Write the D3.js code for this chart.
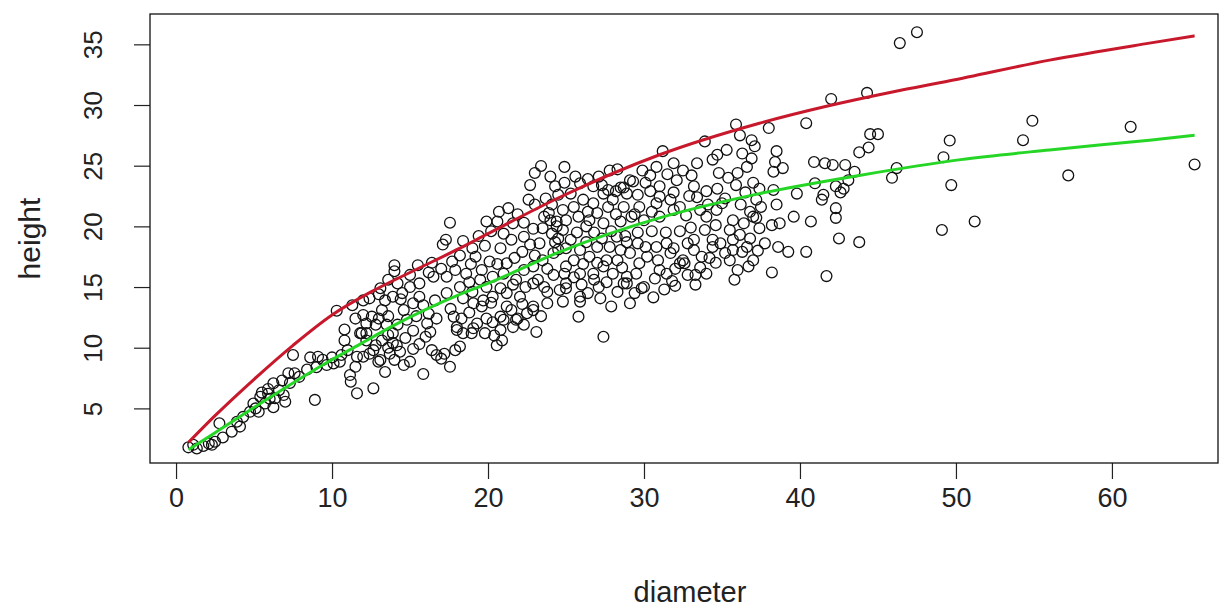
<!DOCTYPE html>
<html>
<head>
<meta charset="utf-8">
<script src="https://cdn.jsdelivr.net/npm/d3@7"></script>
<style>
  body { margin: 0; background: #fff; }
  text { font-family: "Liberation Sans", Arial, sans-serif; fill: #222; }
</style>
</head>
<body>
<svg id="chart" width="1230" height="608"></svg>
<script>

var trees = [
  [0.79,1.79],[1.33,1.7],[1.75,1.9],[2.5,2.25],[2.1,2.1],[2.78,3.77],[3.57,3.08],[4.1,3.5],[4.3,4.3],[4.74,4.72],
  [5.3,4.72],[4.96,5.4],[5.4,5.96],[5.9,6.2],[6.24,5.1],[6.35,5.83],[6.9,6.1],[7.0,5.55],[6.8,7.3],[7.2,7.9],
  [7.6,7.9],[7.5,9.4],[6.24,7.07],[5.9,6.6],[5.5,6.3],[8.9,5.7],[8.6,9.2],[9.1,9.26],[9.0,8.4],[9.66,8.57],
  [10.1,8.7],[10.5,8.85],[10.8,10.6],[10.3,13.05],[11.3,13.5],[11.15,7.75],[11.2,7.2],[11.6,6.24],[11.5,8.43],[11.6,9.26],
  [11.8,11.2],
  [1.1,2.0],[2.3,2.0],[3.0,2.6],[3.9,3.9],[5.1,5.0],[5.7,5.4],[6.0,5.8],[6.6,6.5],[7.3,7.1],[7.9,7.6],
  [8.4,8.2],[9.4,9.0],[10.0,9.2],[10.6,9.4],[11.0,9.8],
  [12.65,6.65],[13.4,8.0],[12.97,8.85],[12.4,9.5],[12.2,11.2],[14.6,8.57],[15.0,8.85],[14.36,9.67],[13.9,10.4],[13.6,11.05],
  [15.85,7.83],[16.4,9.8],[16.7,9.4],[17.0,9.1],[17.56,8.43],[17.2,9.5],[17.9,9.8],[18.2,10.1],[18.0,11.46],[18.4,11.2],
  [18.95,11.2],[19.06,11.6],[16.3,11.3],[18.3,12.4],[20.56,10.2],[20.9,10.6],[20.3,12.1],[21.0,12.3],[20.8,11.46],[21.9,12.4],
  [21.2,13.4],[23.1,11.3],[22.9,13.1],[19.6,13.4],[20.2,13.7],
  [12.0,9.26],[12.65,9.8],[13.1,8.99],[13.7,9.5],[14.15,10.2],[13.2,10.6],[13.9,11.2],[13.5,11.9],[12.2,10.6],[11.9,11.2],
  [10.8,11.5],[11.5,12.4],[12.0,12.7],[12.8,11.9],[13.0,12.4],[13.6,12.6],[14.2,11.9],[14.8,12.3],[15.4,12.6],[15.2,11.4],
  [14.7,10.8],[15.6,10.3],[15.2,9.9],[14.0,9.0],[12.8,10.2],[13.6,10.0],[16.0,10.9],[16.2,12.8],[15.6,14.2],[14.4,14.0],
  [13.0,14.4],[14.2,15.3],[13.6,15.6],[15.0,16.0],[16.2,16.2],[16.4,17.0],[15.5,16.8],
  [25.8,12.56],[27.4,10.9],[29.1,13.66],[30.6,14.15],[29.85,14.9],[28.9,15.3],[27.2,14.07],[25.9,13.8],[24.8,13.8],[26.4,14.5],
  [27.1,15.0],[26.0,15.2],[25.0,14.9],[35.8,15.6],
  [23.4,24.98],[23.0,24.4],[22.7,23.4],[23.0,21.8],[23.9,21.1],[17.56,20.3],[17.1,18.5],[17.3,18.9],[14.0,16.8],[14.0,16.3],
  [13.1,14.9],[12.4,14.07],[18.2,17.6],[19.2,17.5],[20.1,17.1],[20.8,18.2],[21.0,19.4],[21.6,20.25],[22.3,19.15],[22.7,18.5],
  [21.5,18.9],[23.5,19.85],[24.1,19.4],[23.3,18.6],[24.3,18.7],[24.5,19.0],[20.3,15.85],[21.0,16.1],[21.8,15.6],[22.9,15.3],
  [19.5,15.6],[18.6,16.1],[17.35,15.85],[16.5,15.85],[15.6,15.3],[15.0,15.0],[14.5,14.5],[13.9,14.2],[13.4,13.9],[13.2,13.1],
  [12.55,12.56],[12.2,12.0],[18.2,15.0],[17.35,14.5],[16.6,13.9],[15.85,13.5],[15.2,13.66],[14.6,13.1],[16.7,12.4],[16.1,12.0],
  [17.8,12.56],[18.0,11.7],[19.06,13.66],[19.7,13.9],[20.3,14.2],[21.2,14.5],[22.05,14.2],[22.9,13.4],[23.8,13.66],[20.8,12.56],
  [21.8,12.3],[22.5,12.84],[19.9,12.4],[18.4,14.07],[23.5,17.2],[22.9,16.7],[22.3,16.4],[21.2,16.96],[24.2,17.8],[24.4,20.0],
  [24.0,20.5],[24.4,20.4],[12.0,13.9],
  [17.6,13.2],[18.8,12.9],[19.3,12.0],[19.8,11.2],[20.4,11.0],[21.6,11.7],[22.3,11.9],[21.5,13.1],[22.2,13.6],[23.4,12.6],
  [23.8,14.6],[23.2,15.6],[22.4,15.0],[21.6,15.2],[20.8,14.9],[19.9,15.0],[19.0,14.6],[18.8,15.4],[17.9,16.4],[17.0,16.5],
  [17.7,17.1],[18.9,16.9],[19.6,16.4],[20.6,16.9],[21.7,17.4],[22.2,17.9],[23.0,17.6],[23.8,16.5],[24.2,16.0],[23.6,15.0],
  [19.8,18.4],[19.0,18.2],[18.4,18.8],[19.4,19.2],[20.2,19.6],[20.6,20.4],[21.9,21.0],[22.3,20.3],[21.3,21.5],[20.7,21.2],
  [19.9,20.4],[22.9,19.8],[23.6,20.8],[24.1,21.8],[24.5,22.6],[23.7,22.3],[22.6,22.2],[24.3,23.3],[24.0,24.1],
  [35.9,28.4],[36.15,27.5],[36.9,27.1],[36.9,25.6],[35.3,26.3],[33.9,27.0],[31.2,26.2],[24.9,24.9],[31.9,25.2],[33.4,25.2],
  [34.4,25.5],[36.6,24.9],[36.0,24.4],[30.4,24.2],[29.3,23.7],[27.8,24.6],[28.3,24.7],[27.1,24.1],[25.9,23.55],[25.3,22.7],
  [31.0,23.3],[33.2,23.3],[33.05,24.2],[34.0,22.9],[34.8,24.4],[33.6,21.35],[32.3,21.6],[31.7,22.2],[31.0,22.45],[30.8,21.9],
  [30.4,22.9],[29.7,21.6],[28.9,22.7],[28.7,21.6],[28.0,22.2],[27.4,22.7],[26.75,23.3],[26.75,21.9],[26.1,22.2],[25.5,21.6],
  [24.8,21.35],[25.0,20.5],[25.8,20.8],[26.5,20.5],[27.4,20.25],[28.5,20.4],[29.2,20.8],[30.0,20.5],[31.0,20.8],[31.9,21.35],
  [32.7,20.9],[34.0,20.8],[34.65,21.35],[35.7,20.5],[36.4,20.25],[37.0,20.8],[35.5,19.7],[36.15,19.3],[36.8,19.0],[35.7,18.9],
  [34.9,18.6],[34.4,18.9],[35.7,18.05],[36.3,17.9],[35.5,17.2],[35.2,17.8],[36.6,18.3],[33.2,18.9],[33.2,18.05],[32.5,17.2],
  [31.7,17.8],[31.45,18.6],[30.8,18.3],[30.1,18.3],[30.2,17.5],[29.1,17.8],[28.5,18.05],[28.25,19.15],[27.8,18.3],[27.0,18.3],
  [27.6,17.2],[26.5,17.5],[25.9,18.05],[25.3,18.9],[24.8,19.7],[25.5,17.2],[25.0,16.7],[25.9,16.1],[26.75,16.1],[27.4,16.7],
  [28.0,16.1],[28.9,15.85],[29.5,16.1],[29.7,16.96],[28.7,15.3],[30.0,15.0],[31.0,16.4],[31.45,16.1],[32.3,16.96],[32.6,16.96],
  [32.0,16.5],[34.0,16.1],[36.7,16.7],[34.4,18.3],[25.0,15.3],[25.9,14.2],[24.6,14.76],[26.3,20.0],[27.0,21.1],[29.1,23.8],
  [28.5,23.2],[35.4,24.0],[35.9,23.4],[36.5,22.8],[37.0,23.6],[35.2,22.3],[36.2,21.8],[37.2,22.2],[34.7,23.1],
  [24.9,23.6],[25.6,24.1],[26.4,23.9],[27.3,23.4],[27.7,23.0],[28.2,22.9],[28.7,23.2],[29.6,22.6],[30.1,23.6],[29.9,24.6],
  [30.8,24.9],[31.5,24.3],[32.1,23.8],[32.5,24.6],[32.9,22.5],[31.9,22.8],[30.5,21.2],[29.4,21.0],[28.2,21.0],[27.7,21.6],
  [26.4,21.2],[25.7,19.5],[26.8,19.5],[27.9,19.6],[28.8,19.2],[29.6,19.5],[30.5,19.6],[31.4,19.5],[32.3,19.6],[33.0,19.9],
  [33.9,19.7],[34.6,20.1],[32.8,18.6],[31.9,18.2],[30.9,17.2],[29.6,18.6],[28.9,18.7],[27.3,19.0],[26.3,18.7],[26.1,16.9],
  [27.0,17.0],[28.3,17.2],[28.6,16.6],[30.7,15.7],[31.8,15.5],[32.8,16.0],[33.6,16.6],[33.7,17.5],[34.2,17.4],[33.3,16.0],
  [27.6,15.4],[26.8,15.6],[25.5,15.8],[24.9,16.1],[24.5,18.1],[25.0,18.2],[27.9,13.4],[28.3,14.6],[29.4,14.5],[31.3,14.8],
  [32.0,15.1],[33.3,15.2],[34.6,17.0],[36.0,16.4],[37.0,17.2],[37.3,18.0],[37.2,20.7],[37.5,21.6],[36.8,21.2],[35.0,21.9],
  [34.1,21.8],[33.4,22.4],[34.7,25.9],[36.3,26.0],[37.1,26.6],
  [42.0,30.5],[44.3,31.0],[40.4,28.5],[38.0,28.1],[44.5,27.6],[45.0,27.6],[44.4,26.5],[43.8,26.1],[49.6,27.07],[49.2,25.7],
  [49.7,23.4],[49.1,19.7],[38.5,26.2],[38.4,25.3],[38.3,24.5],[38.9,24.8],[40.9,25.3],[41.6,25.2],[42.1,25.06],[42.9,25.06],
  [43.5,24.5],[43.1,23.8],[46.2,24.8],[45.9,24.0],[40.96,23.55],[42.3,23.3],[42.8,23.1],[42.6,22.8],[41.5,22.6],[41.4,22.2],
  [38.3,23.0],[37.4,23.1],[39.8,22.7],[38.5,21.8],[42.3,21.5],[42.3,20.7],[39.6,20.8],[40.7,20.4],[38.7,20.25],[38.2,20.1],
  [37.4,19.85],[42.5,19.0],[43.8,18.7],[37.75,18.6],[38.6,18.3],[39.25,17.9],[40.4,17.9],[38.2,16.2],[41.7,15.9],
  [46.4,35.1],[47.5,36.0],[51.2,20.4],[54.9,28.7],[54.3,27.1],[57.2,24.2],[61.2,28.2],[65.3,25.1]
];

// fitted curves
var upperD = [0.8, 2.5, 5.0, 7.5, 10.0, 12.5, 15.0, 18.2, 20.0, 24.6, 31.0, 37.4, 41.7, 46.0, 49.6, 56.0, 62.4, 65.3];
var upperH = [2.2, 4.4, 7.4, 10.2, 12.7, 14.6, 16.2, 18.2, 19.4, 22.4, 25.9, 28.5, 29.9, 31.1, 32.0, 33.7, 35.1, 35.7];
var lowerD = [0.8, 2.5, 5.4, 9.7, 11.8, 13.9, 18.2, 20.0, 24.6, 31.0, 37.4, 43.8, 50.3, 56.0, 62.4, 65.3];
var lowerH = [1.6, 3.0, 5.4, 8.8, 10.3, 11.8, 14.4, 15.3, 17.9, 20.7, 22.7, 24.2, 25.5, 26.3, 27.1, 27.5];

var xTicks = [0, 10, 20, 30, 40, 50, 60];
var yTicks = [5, 10, 15, 20, 25, 30, 35];

var boxL = 150, boxR = 1218, boxT = 14, boxB = 463;

var svg = d3.select("#chart");

var x = d3.scaleLinear().domain([-1.67, 66.8]).range([boxL, boxR]);
var y = d3.scaleLinear().domain([0.5, 37.5]).range([boxB, boxT]);

// x axis
var gx = svg.append("g")
  .attr("transform", "translate(0," + boxB + ")")
  .call(d3.axisBottom(x).tickValues(xTicks).tickSize(16).tickSizeOuter(0).tickPadding(9));
gx.select(".domain").remove();
gx.selectAll(".tick line").attr("stroke", "#222").attr("stroke-width", 1.2);
gx.selectAll(".tick text").attr("font-size", 27).attr("fill", "#222");

// y axis, labels turned like R does
var gy = svg.append("g")
  .attr("transform", "translate(" + boxL + ",0)")
  .call(d3.axisLeft(y).tickValues(yTicks).tickSize(16).tickSizeOuter(0));
gy.select(".domain").remove();
gy.selectAll(".tick line").attr("stroke", "#222").attr("stroke-width", 1.2);
gy.selectAll(".tick text")
  .attr("x", null).attr("dy", null)
  .attr("text-anchor", "middle")
  .attr("font-size", 26)
  .attr("fill", "#222")
  .attr("transform", "translate(-48,0) rotate(-90)");

// frame
svg.append("rect")
  .attr("x", boxL).attr("y", boxT)
  .attr("width", boxR - boxL).attr("height", boxB - boxT)
  .attr("fill", "none").attr("stroke", "#111").attr("stroke-width", 1.3);

// titles
svg.append("text")
  .attr("x", (boxL + boxR) / 2 + 6).attr("y", 602)
  .attr("text-anchor", "middle").attr("font-size", 29)
  .text("diameter");

svg.append("text")
  .attr("transform", "translate(40," + (boxT + boxB) / 2 + ") rotate(-90)")
  .attr("text-anchor", "middle").attr("font-size", 30)
  .text("height");

// points
svg.append("g").selectAll("circle")
  .data(trees).enter()
  .append("circle")
  .attr("cx", function(d) { return x(d[0]); })
  .attr("cy", function(d) { return y(d[1]); })
  .attr("r", 5.4)
  .attr("fill", "none")
  .attr("stroke", "#111")
  .attr("stroke-width", 1.3);

// curves
var line = d3.line()
  .x(function(d) { return x(d[0]); })
  .y(function(d) { return y(d[1]); })
  .curve(d3.curveMonotoneX);

svg.append("path")
  .datum(d3.zip(upperD, upperH))
  .attr("d", line)
  .attr("fill", "none").attr("stroke", "#c8182c").attr("stroke-width", 3);

svg.append("path")
  .datum(d3.zip(lowerD, lowerH))
  .attr("d", line)
  .attr("fill", "none").attr("stroke", "#26d626").attr("stroke-width", 3);

</script>
</body>
</html>
